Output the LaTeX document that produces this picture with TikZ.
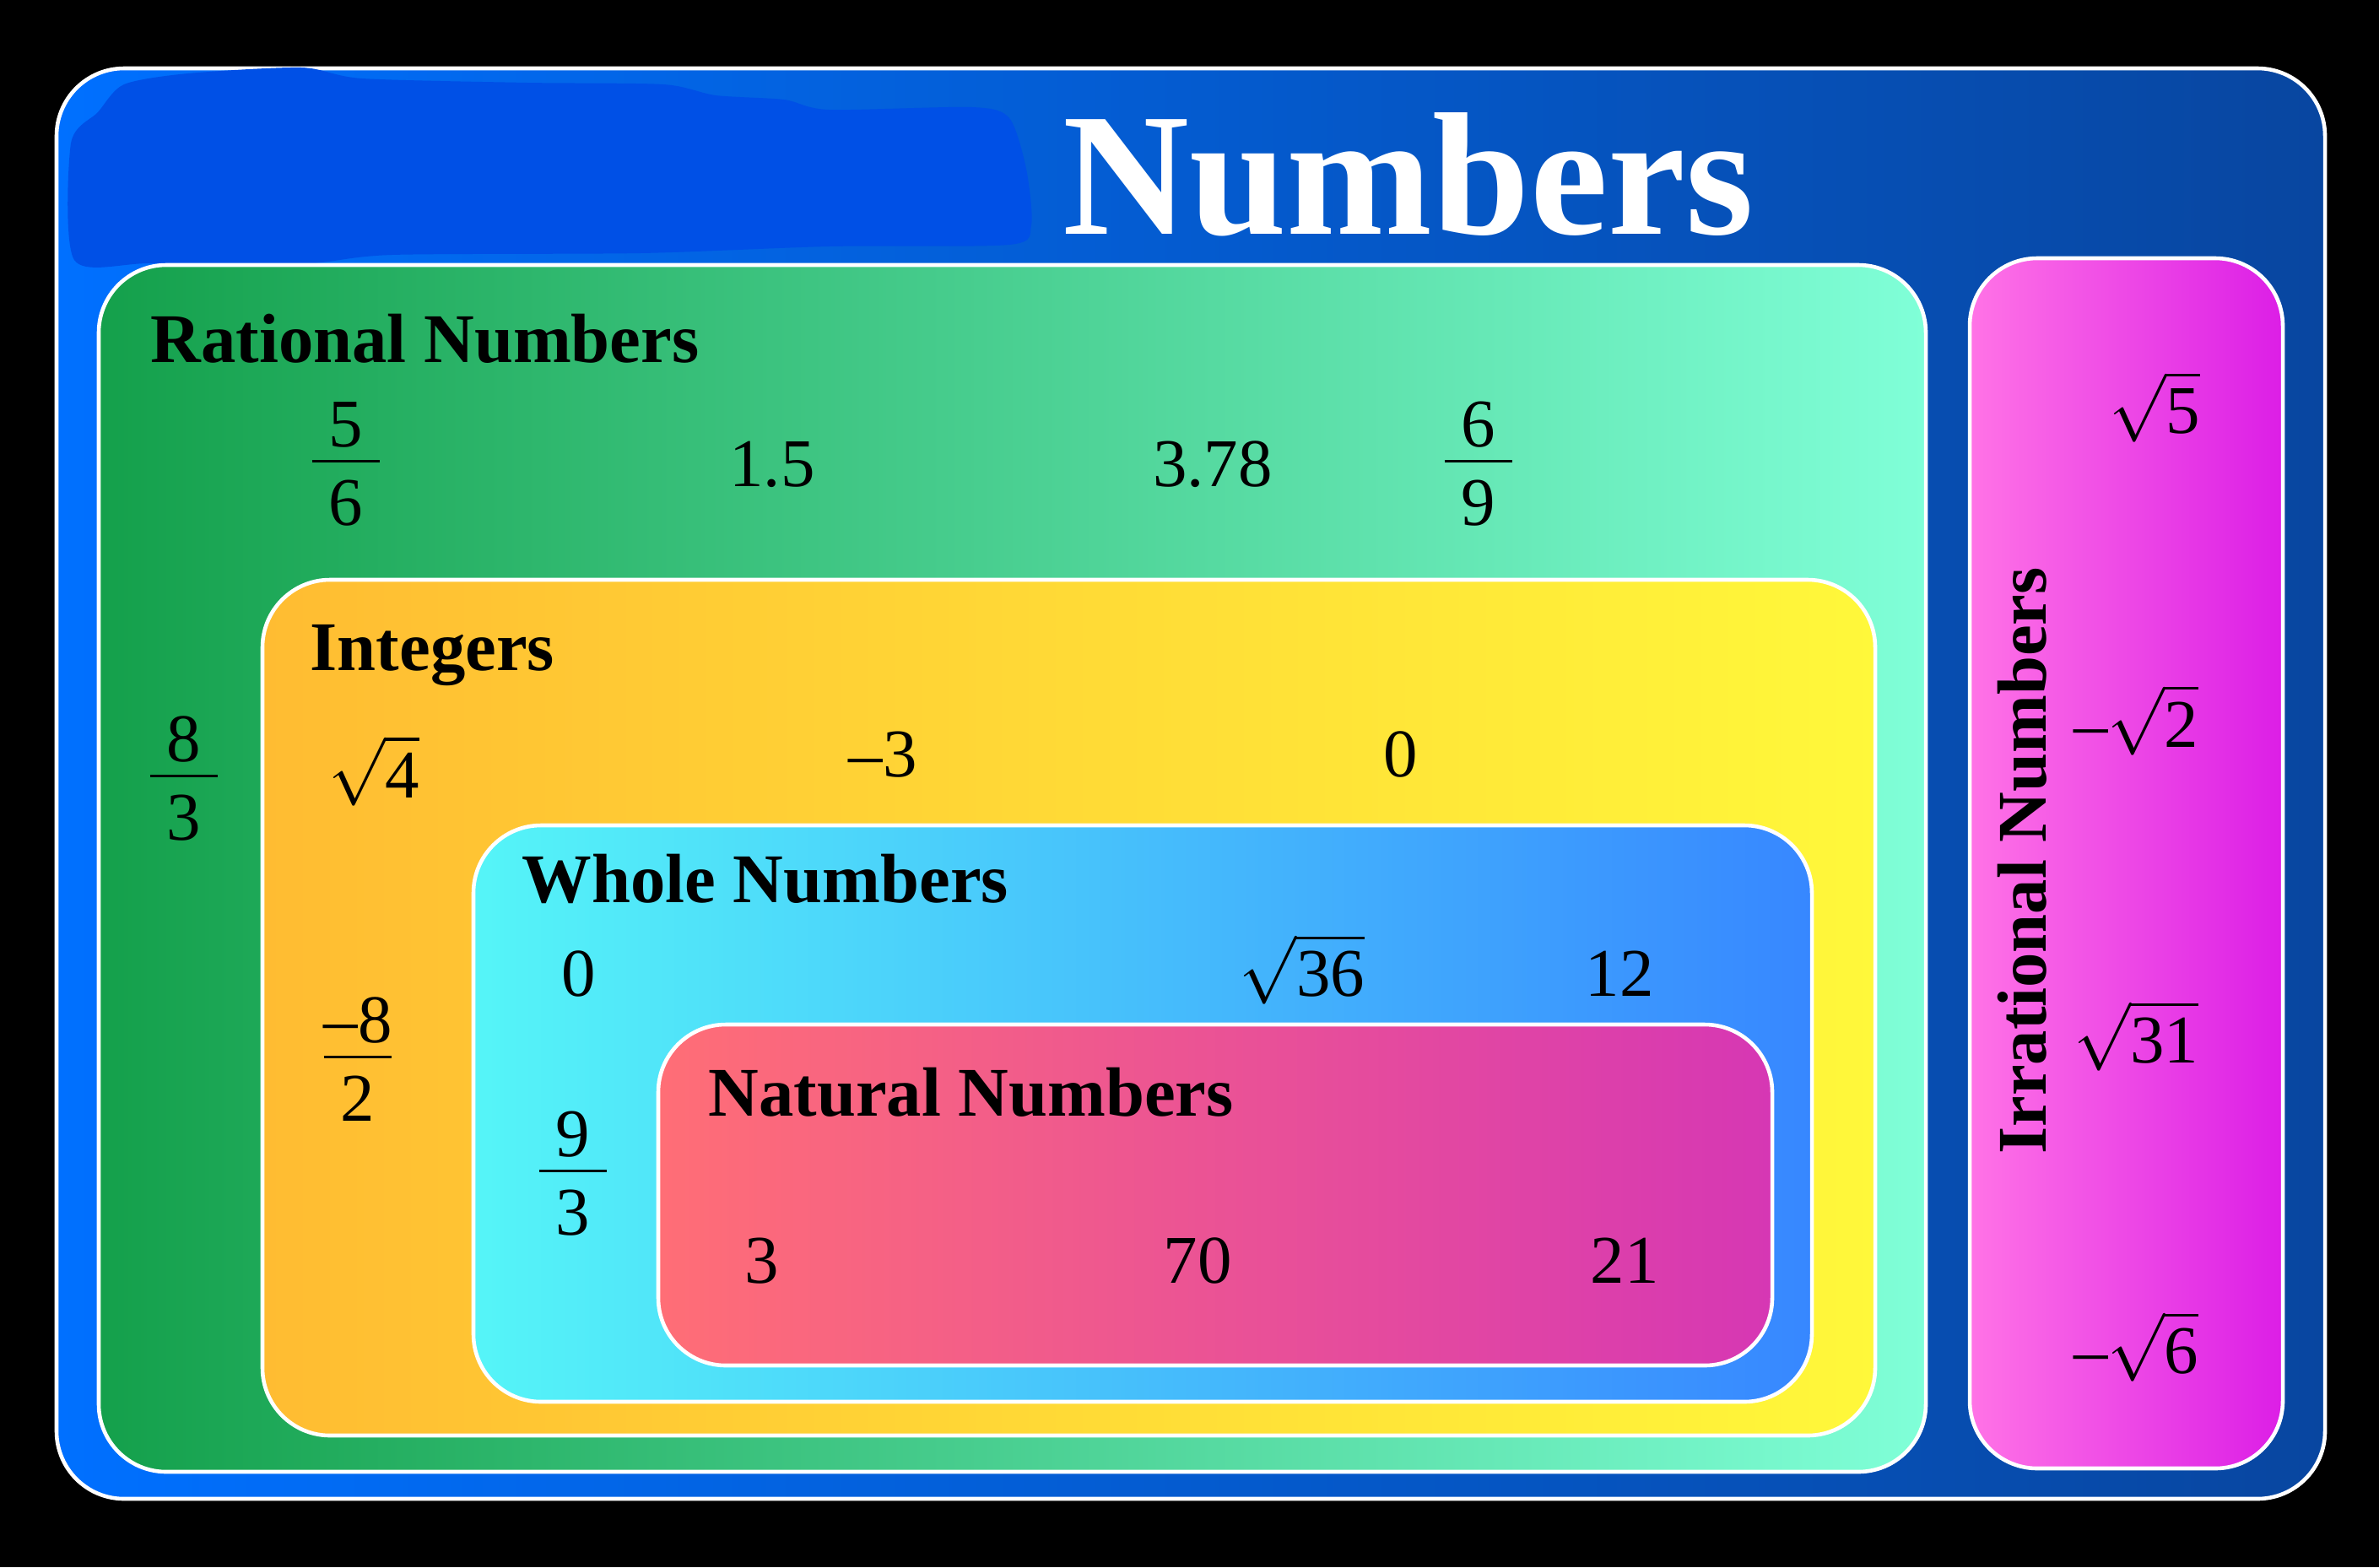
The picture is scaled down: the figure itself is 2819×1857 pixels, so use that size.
\documentclass[tikz,border=0pt]{standalone}
\usepackage{fontspec}
\setmainfont{Liberation Serif}
\DeclareFontShape{OMX}{cmex}{m}{n}{<-> cmex10}{}
\DeclareFontShape{OMS}{cmsy}{m}{n}{<-> cmsy10}{}
\DeclareFontShape{OML}{cmm}{m}{it}{<-> cmmi10}{}
\definecolor{outerL}{RGB}{0,112,255}
\definecolor{outerR}{RGB}{8,70,160}
\definecolor{ratL}{RGB}{20,160,75}
\definecolor{ratR}{RGB}{128,255,216}
\definecolor{intL}{RGB}{255,188,50}
\definecolor{intR}{RGB}{255,248,58}
\definecolor{wholeL}{RGB}{85,245,248}
\definecolor{wholeR}{RGB}{55,135,255}
\definecolor{natL}{RGB}{255,110,118}
\definecolor{natM}{RGB}{238,52,130}
\definecolor{natR}{RGB}{214,55,180}
\definecolor{irrL}{RGB}{255,115,230}
\definecolor{irrR}{RGB}{220,30,230}
\definecolor{blobblue}{RGB}{0,80,230}
\newcommand\myfr[2]{$\displaystyle\frac{\raisebox{-5pt}{\makebox[1em]{#1}}}{\makebox[1em]{#2}}$}
\newcommand\mysq[1]{$\sqrt{\mbox{#1}}$}
\begin{document}
\begin{tikzpicture}[x=0.01cm,y=-0.01cm,
  setbox/.style={draw=white,line width=1.3pt,rounded corners=0.8cm},
  hd/.style={font=\fontsize{23.5}{28}\selectfont\bfseries,anchor=base west,inner sep=0pt},
  num/.style={font=\fontsize{23}{28}\selectfont,anchor=base,inner sep=0pt}]
\fill[black] (0,0) rectangle (2819,1857);
\useasboundingbox (0,0) rectangle (2819,1857);
% outer box
\shadedraw[setbox,left color=outerL,right color=outerR] (67,81) rectangle (2755,1776);
% scribble
\fill[blobblue] plot[smooth cycle,tension=0.45] coordinates {(84,170) (116,133) (147,100) (223,87) (357,80) (429,93) (625,98) (786,100) (848,113) (929,118) (982,130) (1152,127) (1196,140) (1216,200) (1222,267) (1196,290) (982,292) (759,300) (464,302) (357,313) (179,312) (88,308)};
\node[font=\fontsize{59}{70}\selectfont\bfseries,text=white,anchor=base west,inner sep=0pt] (title) at (1259,277) {Numbers};
% sets
\shadedraw[setbox,left color=ratL,right color=ratR] (117,314) rectangle (2282,1744);
\shadedraw[setbox,left color=intL,right color=intR] (311,687) rectangle (2222,1701);
\shadedraw[setbox,left color=wholeL,right color=wholeR] (561,978) rectangle (2147,1661);
\shadedraw[setbox,left color=natL,middle color=natM,right color=natR] (780,1214) rectangle (2100,1618);
\shadedraw[setbox,left color=irrL,right color=irrR] (2334,306) rectangle (2705,1740);
% headings
\node[hd] (rat) at (178,429) {Rational Numbers};
\node[hd] (int) at (367,794) {Integers};
\node[hd] (whole) at (618,1069) {Whole Numbers};
\node[hd] (nat) at (839,1322) {Natural Numbers};
\node[font=\fontsize{23.5}{28}\selectfont\bfseries,rotate=90,anchor=base,inner sep=0pt] (irr) at (2424,1020) {Irrational Numbers};
% rational
\node[num] (f56) at (410,567) {\myfr{5}{6}};
\node[num] (n15) at (915,576) {1.5};
\node[num] (n378) at (1437,576) {3.78};
\node[num] (f69) at (1752,567) {\myfr{6}{9}};
\node[num] (f83) at (218,940) {\myfr{8}{3}};
% integers
\node[num] (sq4) at (443,945) {\mysq{4}};
\node[num] (nm3) at (1046,920) {–3};
\node[num] (z1) at (1660,920) {0};
\node[num] (fm82) at (424,1273) {\myfr{–8}{2}};
% whole
\node[num] (z2) at (686,1180) {0};
\node[num] (sq36) at (1543,1180) {\mysq{36}};
\node[num] (n12) at (1919,1180) {12};
\node[num] (f93) at (679,1408) {\myfr{9}{3}};
% natural
\node[num] (n3) at (903,1520) {3};
\node[num] (n70) at (1419,1520) {70};
\node[num] (n21) at (1925,1520) {21};
% irrational
\node[num,anchor=base east] (s5) at (2608,513) {\mysq{5}};
\node[num,anchor=base east] (s2) at (2606,885) {–\mysq{2}};
\node[num,anchor=base east] (s31) at (2606,1259) {\mysq{31}};
\node[num,anchor=base east] (s6) at (2606,1627) {–\mysq{6}};
\end{tikzpicture}
\end{document}
